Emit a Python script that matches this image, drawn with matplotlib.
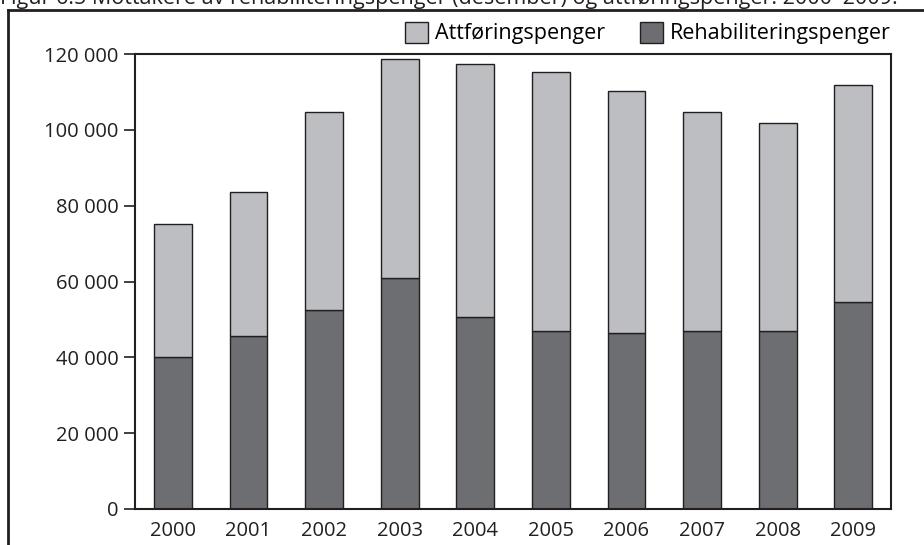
import matplotlib
matplotlib.use("Agg")
import matplotlib.pyplot as plt
from matplotlib.lines import Line2D
from matplotlib.patches import Patch
from matplotlib.ticker import FuncFormatter

years = ["2000", "2001", "2002", "2003", "2004", "2005", "2006", "2007", "2008", "2009"]
rehabilitering = [40000, 45500, 52600, 61000, 50600, 47000, 46400, 47000, 47000, 54600]
totalt = [75200, 83500, 104700, 118700, 117300, 115200, 110200, 104700, 101900, 111700]
attforing = [t - r for t, r in zip(totalt, rehabilitering)]

LIGHT = "#bdbec2"
DARK = "#6d6e71"
EDGE = "#231f20"

plt.rcParams["font.family"] = ["Open Sans", "DejaVu Sans"]

fig = plt.figure(figsize=(9.24, 5.45), dpi=100)
W, H = 924, 545
ax = fig.add_axes([135 / W, 1 - 509 / H, 756 / W, 455 / H])

x = list(range(len(years)))
ax.bar(x, rehabilitering, width=0.5, color=DARK, edgecolor=EDGE, linewidth=1.0)
ax.bar(x, attforing, bottom=rehabilitering, width=0.5, color=LIGHT,
       edgecolor=EDGE, linewidth=1.0)

ax.set_xlim(-0.5, 9.5)
ax.set_ylim(0, 120000)
ax.set_yticks(range(0, 120001, 20000))
ax.yaxis.set_major_formatter(FuncFormatter(lambda v, p: f"{int(v):,}".replace(",", " ")))
ax.set_xticks(x)
ax.set_xticklabels(years)
ax.tick_params(axis="x", length=0, pad=9, labelsize=14.5, colors=EDGE)
ax.tick_params(axis="y", length=8, width=1.2, pad=4, labelsize=14.5, colors=EDGE)
for s in ax.spines.values():
    s.set_color(EDGE)
    s.set_linewidth(1.5)

handles = [Patch(facecolor=LIGHT, edgecolor=EDGE, linewidth=1.0),
           Patch(facecolor=DARK, edgecolor=EDGE, linewidth=1.0)]
fig.legend(handles, ["Attføringspenger", "Rehabiliteringspenger"], ncol=2,
           loc="center right", bbox_to_anchor=(891 / W, 1 - 33 / H),
           frameon=False, fontsize=15.5, handlelength=1.05, handleheight=1.15,
           handletextpad=0.35, columnspacing=1.6, borderaxespad=0, borderpad=0)

# outer frame (only left and top edges visible)
fig.add_artist(Line2D([8 / W, 8 / W], [0, 1 - 10 / H], color=EDGE, linewidth=2,
                      transform=fig.transFigure))
fig.add_artist(Line2D([8 / W, 1], [1 - 10 / H, 1 - 10 / H], color=EDGE, linewidth=2,
                      transform=fig.transFigure))

# figure caption, cut off at the top edge as in the source
fig.text(0, 1 - 4 / H,
         "Figur 6.5 Mottakere av rehabiliteringspenger (desember) og attføringspenger. 2000–2009.",
         fontsize=15.5, color=EDGE, va="baseline", ha="left")

fig.savefig("out.png", dpi=100)
